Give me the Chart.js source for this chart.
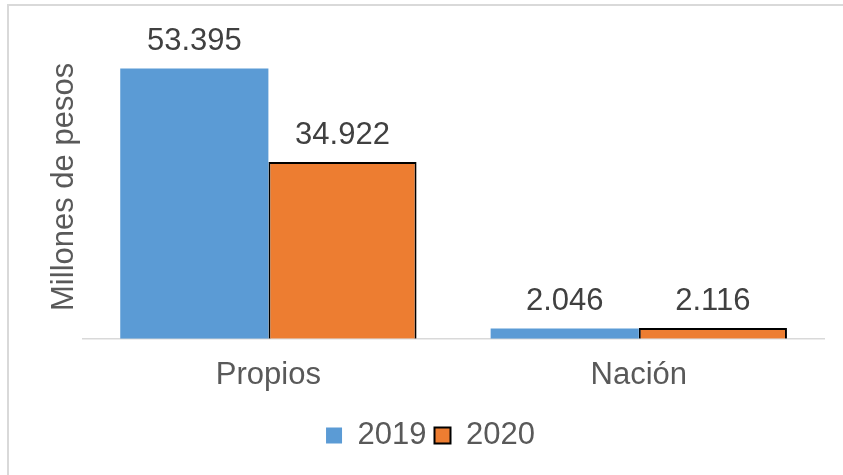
<!DOCTYPE html>
<html>
<head>
<meta charset="utf-8">
<script src="https://cdn.jsdelivr.net/npm/chart.js@4.4.1/dist/chart.umd.min.js"></script>
<style>
  html, body { margin: 0; padding: 0; background: #fff; }
  #wrap { position: relative; width: 843px; height: 475px; }
  #frame { position: absolute; left: 7px; top: 4px; right: -10px; bottom: -10px;
           border-top: 2px solid #d9d9d9; border-left: 2px solid #d9d9d9; pointer-events: none; }
  canvas { position: absolute; left: 0; top: 0; }
</style>
</head>
<body>
<div id="wrap">
  <canvas id="chart" width="843" height="475"></canvas>
  <div id="frame"></div>
</div>
<script>
const categories = ['Propios', 'Nación'];
const seriesNames = ['2019', '2020'];
const values2019 = [53395, 2046];
const values2020 = [34922, 2116];
const yAxisTitle = 'Millones de pesos';

const FONT = '"Liberation Sans", Arial, sans-serif';

// 53395 -> "53.395"
function formatValue(v) {
  return String(v).replace(/\B(?=(\d{3})+(?!\d))/g, '.');
}

// draws the value above each bar
const valueLabels = {
  id: 'valueLabels',
  afterDatasetsDraw(chart) {
    const ctx = chart.ctx;
    ctx.save();
    ctx.font = '31px ' + FONT;
    ctx.fillStyle = '#404040';
    ctx.textAlign = 'center';
    ctx.textBaseline = 'alphabetic';
    chart.data.datasets.forEach((ds, i) => {
      chart.getDatasetMeta(i).data.forEach((bar, j) => {
        ctx.fillText(formatValue(ds.data[j]), bar.x, bar.y - 18);
      });
    });
    ctx.restore();
  }
};

new Chart(document.getElementById('chart'), {
  type: 'bar',
  data: {
    labels: categories,
    datasets: [
      {
        label: seriesNames[0],
        data: values2019,
        backgroundColor: '#5B9BD5',
        borderWidth: 0
      },
      {
        label: seriesNames[1],
        data: values2020,
        backgroundColor: '#ED7D31',
        borderColor: '#000000',
        borderWidth: 2
      }
    ]
  },
  options: {
    responsive: false,
    animation: false,
    layout: { padding: { left: 37, right: 19, top: 35, bottom: 14 } },
    datasets: { bar: { categoryPercentage: 0.8, barPercentage: 1.0 } },
    plugins: {
      legend: {
        position: 'bottom',
        labels: {
          font: { family: FONT, size: 31 },
          color: '#595959',
          boxWidth: 16,
          boxHeight: 16,
          padding: 8
        }
      },
      tooltip: { enabled: false }
    },
    scales: {
      x: {
        grid: { display: false, drawTicks: false },
        border: { display: true, color: '#d9d9d9', width: 1.5 },
        ticks: {
          font: { family: FONT, size: 31 },
          color: '#595959',
          padding: 18
        }
      },
      y: {
        min: 0,
        max: 60000,
        grid: { display: false, drawTicks: false },
        border: { display: false },
        ticks: { display: false },
        title: {
          display: true,
          text: yAxisTitle,
          font: { family: FONT, size: 31 },
          color: '#595959',
          padding: { top: 9, bottom: 0 }
        }
      }
    }
  },
  plugins: [valueLabels]
});
</script>
</body>
</html>
